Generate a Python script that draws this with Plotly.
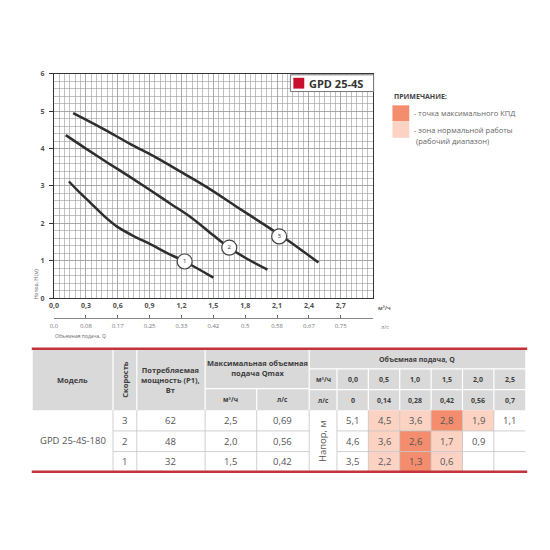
import plotly.graph_objects as go

# ---------------- data ----------------
# pump curves (Q in m3/h, H in m)
q_speed3 = [0.18, 0.45, 0.72, 0.95, 1.20, 1.45, 1.70, 1.95, 2.20, 2.49]
h_speed3 = [4.95, 4.55, 4.12, 3.78, 3.37, 2.95, 2.48, 2.02, 1.55, 0.95]
q_speed2 = [0.11, 0.30, 0.50, 0.70, 0.90, 1.10, 1.30, 1.50, 1.65, 1.80, 2.01]
h_speed2 = [4.36, 4.00, 3.63, 3.27, 2.90, 2.52, 2.14, 1.68, 1.35, 1.08, 0.76]
q_speed1 = [0.14, 0.25, 0.35, 0.47, 0.59, 0.75, 0.91, 1.07, 1.23, 1.50]
h_speed1 = [3.12, 2.80, 2.53, 2.20, 1.92, 1.66, 1.44, 1.20, 0.98, 0.55]
curve_labels = ["3", "2", "1"]
label_q = [2.12, 1.65, 1.23]
label_h = [1.65, 1.35, 0.98]

q_tickvals = [0.0, 0.3, 0.6, 0.9, 1.2, 1.5, 1.8, 2.1, 2.4, 2.7]
q_ticktext_m3h = ["0,0", "0,3", "0,6", "0,9", "1,2", "1,5", "1,8", "2,1", "2,4", "2,7"]
q_ticktext_ls = ["0,0", "0,08", "0,17", "0,25", "0,33", "0,42", "0,5", "0,58", "0,67", "0,75"]
h_tickvals = [0, 1, 2, 3, 4, 5, 6]

# table
model_name = "GPD 25-4S-180"
speeds = [3, 2, 1]
power_w = [62, 48, 32]
qmax_m3h = [2.5, 2.0, 1.5]
qmax_ls = [0.69, 0.56, 0.42]
flow_m3h = [0.0, 0.5, 1.0, 1.5, 2.0, 2.5]
flow_ls = [0, 0.14, 0.28, 0.42, 0.56, 0.7]
head_speed3 = [5.1, 4.5, 3.6, 2.8, 1.9, 1.1]
head_speed2 = [4.6, 3.6, 2.6, 1.7, 0.9, None]
head_speed1 = [3.5, 2.2, 1.3, 0.6, None, None]
zone_speed3 = [0, 1, 1, 2, 1, 0]   # 0 none, 1 working range, 2 max efficiency
zone_speed2 = [0, 1, 2, 1, 0, 0]
zone_speed1 = [0, 1, 2, 1, 0, 0]

# ---------------- helpers ----------------
W = H = 550
FONT = "Open Sans"
def px(x): return x / W
def py(y): return 1 - y / H
def ru(v, nd=1):
    return f"{v:.{nd}f}".replace(".", ",")

fig = go.Figure()

# ---------------- chart ----------------
for q, h in [(q_speed3, h_speed3), (q_speed2, h_speed2), (q_speed1, h_speed1)]:
    fig.add_trace(go.Scatter(x=q, y=h, mode="lines", line=dict(color="#2e2e2e", width=2.5),
                             line_shape="spline", showlegend=False, hoverinfo="skip"))
fig.add_trace(go.Scatter(x=label_q, y=label_h, mode="markers+text", text=curve_labels,
                         textfont=dict(size=6, color="#333", family=FONT),
                         textposition="middle center",
                         marker=dict(size=15, color="white", line=dict(color="#444", width=1.2)),
                         showlegend=False, hoverinfo="skip"))
# dummy trace to attach the l/s axis
fig.add_trace(go.Scatter(x=[0], y=[0], xaxis="x2", yaxis="y", mode="markers",
                         marker=dict(opacity=0), showlegend=False, hoverinfo="skip"))

grid = dict(color="#999999", width=0.6)
x_dom = [px(49.5), px(371)]
fig.update_layout(
    width=W, height=H, autosize=False, margin=dict(l=0, r=0, t=0, b=0),
    paper_bgcolor="white", plot_bgcolor="white",
    font=dict(family=FONT, color="#505050"), hovermode=False, dragmode=False,
    xaxis=dict(domain=x_dom, range=[0, 3.0], tickvals=q_tickvals, ticktext=q_ticktext_m3h,
               showgrid=True, gridcolor=grid["color"], gridwidth=grid["width"],
               minor=dict(dtick=0.05, tick0=0, showgrid=True, gridcolor=grid["color"], gridwidth=grid["width"]),
               showline=True, linecolor="#333333", linewidth=1.2, mirror=True,
               ticks="", color="#505050",
               tickfont=dict(size=7, color="#505050", family=FONT, weight="bold"),
               zeroline=False, anchor="y", fixedrange=True),
    xaxis2=dict(domain=x_dom, range=[0, 3.0], overlaying="x", anchor="free", position=py(318),
                side="bottom", tickvals=q_tickvals, ticktext=q_ticktext_ls,
                showgrid=False, showline=True, linecolor="#666666", linewidth=0.8,
                ticks="inside", ticklen=3, tickcolor="#666666", ticklabelstandoff=2,
                tickfont=dict(size=6, color="#777777", family=FONT), zeroline=False),
    yaxis=dict(domain=[py(298), py(70)], range=[0, 6], tickvals=h_tickvals,
               showgrid=True, gridcolor=grid["color"], gridwidth=grid["width"],
               minor=dict(dtick=0.2, tick0=0, showgrid=True, gridcolor=grid["color"], gridwidth=grid["width"]),
               showline=True, linecolor="#333333", linewidth=1.2, mirror=True,
               ticks="outside", ticklen=4, tickcolor="#333333", ticklabelstandoff=3,
               tickfont=dict(size=7, color="#505050", family=FONT, weight="bold"),
               zeroline=False, anchor="x", fixedrange=True),
)

shapes = []
ann = []

def text(x, y, s, size=7, color="#444", bold=False, xanchor="center", angle=0, align="center"):
    ann.append(dict(x=px(x), y=py(y), xref="paper", yref="paper", text=s, showarrow=False,
                    xanchor=xanchor, yanchor="middle", textangle=angle, align=align,
                    font=dict(size=size, color=color, family=FONT, weight="bold" if bold else "normal")))

def rect(x0, y0, x1, y1, fill, line=None, lw=0):
    shapes.append(dict(type="rect", xref="paper", yref="paper", x0=px(x0), x1=px(x1),
                       y0=py(y1), y1=py(y0), fillcolor=fill,
                       line=dict(color=line or fill, width=lw), layer="above"))

def line(x0, y0, x1, y1, color, w):
    shapes.append(dict(type="line", xref="paper", yref="paper", x0=px(x0), x1=px(x1),
                       y0=py(y0), y1=py(y1), line=dict(color=color, width=w), layer="above"))

# axis units and titles
text(383, 308, "м³/ч", size=5.5, color="#666", bold=True)
text(383, 327, "л/с", size=5.5, color="#777")
text(48, 337, "Объемная подача, Q", size=5, color="#666", xanchor="left")
text(32, 284, "Напор, H (м)", size=5, color="#666", angle=-90)

# model legend box
rect(288, 71, 372, 88, "white", "#777", 1)
rect(291, 74, 302, 85, "#c8102e")
text(305, 80, "GPD 25-4S", size=11, color="#333", bold=True, xanchor="left")

# note legend
DARK = "#f48d6e"
LIGHT = "#fcd3c3"
text(391, 93, "ПРИМЕЧАНИЕ:", size=7, color="#444", bold=True, xanchor="left")
rect(391, 102, 408, 118, DARK)
rect(391, 118, 408, 135, LIGHT)
text(411, 110, "- точка максимального КПД", size=7.5, color="#666", xanchor="left")
text(411, 127, "- зона нормальной работы", size=7.5, color="#666", xanchor="left")
text(413, 138, "(рабочий диапазон)", size=7.5, color="#666", xanchor="left")

# ---------------- table ----------------
col_x = [28, 109, 133, 202, 254, 307, 335] + [335 + 31.67 * k for k in range(1, 7)]
top, yA, yB, hdr = 349.5, 370, 391, 412
row_y = [412, 433, 454, 474.5]
HDR_BG = "#d9d9d9"
RED = "#c4323c"

rect(col_x[0], top, col_x[-1], hdr, HDR_BG)

heads = [head_speed3, head_speed2, head_speed1]
zones = [zone_speed3, zone_speed2, zone_speed1]
zone_fill = {1: LIGHT, 2: DARK}
for r in range(3):
    for c in range(6):
        z = zones[r][c]
        if z:
            rect(col_x[6 + c], row_y[r], col_x[7 + c], row_y[r + 1], zone_fill[z])

# header separators (white)
for x in [col_x[1], col_x[2], col_x[3], col_x[5]]:
    line(x, top, x, hdr, "white", 1.2)
line(col_x[4], 390, col_x[4], hdr, "white", 1.2)
for x in col_x[6:12]:
    line(x, yA, x, hdr, "white", 1.2)
line(col_x[3], 390, col_x[5], 390, "white", 1.2)
line(col_x[5], yA, col_x[-1], yA, "white", 1.2)
line(col_x[5], yB, col_x[-1], yB, "white", 1.2)

# body separators
BL = "#c4c4c4"
for x in col_x[1:12]:
    line(x, hdr, x, row_y[-1], BL, 0.8)
for y in row_y[1:3]:
    line(col_x[1], y, col_x[5], y, BL, 0.8)
    line(col_x[6], y, col_x[-1], y, BL, 0.8)

line(27, top, 527, top, RED, 2.5)
line(27, row_y[-1], 527, row_y[-1], RED, 2.5)

def cx(i): return (col_x[i] + col_x[i + 1]) / 2

HC = "#3d3d3d"
text(cx(0), 381, "Модель", size=7.5, color=HC, bold=True)
text(cx(1), 381, "Скорость", size=7.5, color=HC, bold=True, angle=-90)
text(cx(2), 381, "Потребляемая<br>мощность (P1),<br>Вт", size=7.5, color=HC, bold=True)
text((col_x[3] + col_x[5]) / 2, 369, "Максимальная объемная<br>подача Qmax", size=7.5, color=HC, bold=True)
text(cx(3), 401, "м³/ч", size=6.5, color=HC, bold=True)
text(cx(4), 401, "л/с", size=6.5, color=HC, bold=True)
text((col_x[5] + col_x[-1]) / 2, 360, "Объемная подача, Q", size=7, color=HC, bold=True)
text(cx(5), 381, "м³/ч", size=6.5, color=HC, bold=True)
text(cx(5), 402, "л/с", size=6.5, color=HC, bold=True)
for c in range(6):
    text(cx(6 + c), 381, ru(flow_m3h[c]), size=7, color=HC, bold=True)
    text(cx(6 + c), 402, str(flow_ls[c]).replace(".", ","), size=7, color=HC, bold=True)

BC = "#555"
BS = 9.5
body_mid = (row_y[0] + row_y[-1]) / 2
text(cx(0), body_mid, model_name, size=BS, color=BC)
text(cx(5), body_mid, "Напор, м", size=BS, color=BC, angle=-90)
for r in range(3):
    ym = (row_y[r] + row_y[r + 1]) / 2
    text(cx(1), ym, str(speeds[r]), size=BS, color=BC)
    text(cx(2), ym, str(power_w[r]), size=BS, color=BC)
    text(cx(3), ym, ru(qmax_m3h[r]), size=BS, color=BC)
    text(cx(4), ym, ru(qmax_ls[r], 2), size=BS, color=BC)
    for c in range(6):
        v = heads[r][c]
        if v is not None:
            text(cx(6 + c), ym, ru(v), size=BS, color=BC)

fig.update_layout(shapes=shapes, annotations=ann)
fig.write_html("out.html", config={"displayModeBar": False, "staticPlot": True},
               post_script="document.body.style.margin='0';")
